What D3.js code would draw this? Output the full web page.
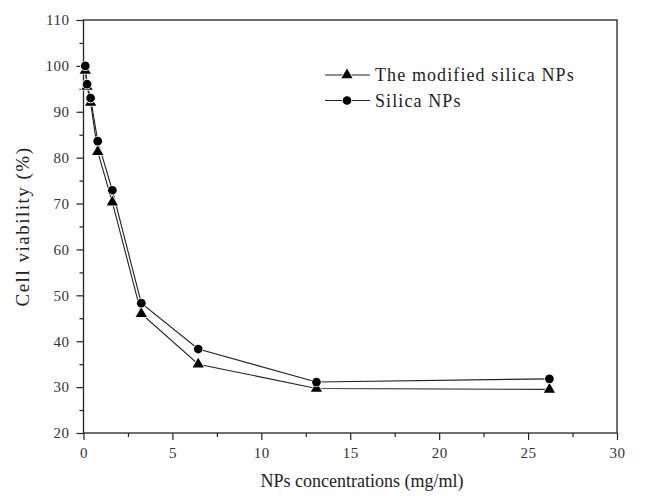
<!DOCTYPE html>
<html>
<head>
<meta charset="utf-8">
<script src="https://cdn.jsdelivr.net/npm/d3@7"></script>
<style>
  body { margin: 0; background: #fff; }
  svg text { font-family: "Liberation Serif", "Times New Roman", serif; }
</style>
</head>
<body>
<div id="chart"></div>
<script>
const width = 650;
const height = 496;

// data
const concentrations = [0.1, 0.2, 0.4, 0.8, 1.62, 3.25, 6.45, 13.1, 26.2];
const modifiedSilica = [99, 95.5, 92, 81.3, 70.3, 46, 35, 29.7, 29.5];
const silica = [100, 96, 93, 83.6, 72.9, 48.3, 38.3, 31.1, 31.8];
const seriesNames = ["The modified silica NPs", "Silica NPs"];
const xTicks = [0, 5, 10, 15, 20, 25, 30];
const yTicks = [20, 30, 40, 50, 60, 70, 80, 90, 100, 110];

const margin = { left: 83.5, right: 33, top: 20, bottom: 63 };

const svg = d3.select("#chart")
    .append("svg")
    .attr("width", width)
    .attr("height", height);

const x = d3.scaleLinear().domain([0, 30]).range([margin.left, width - margin.right]);
const y = d3.scaleLinear().domain([20, 110]).range([height - margin.bottom, margin.top]);

// frame
svg.append("rect")
    .attr("x", x(0)).attr("y", y(110))
    .attr("width", x(30) - x(0)).attr("height", y(20) - y(110))
    .attr("fill", "none").attr("stroke", "#222").attr("stroke-width", 1.3);

// x axis
svg.append("g")
    .attr("transform", `translate(0,${y(20)})`)
    .call(d3.axisBottom(x).tickValues(xTicks).tickSize(7).tickPadding(7).tickFormat(d3.format("d")));
svg.append("g")
    .attr("transform", `translate(0,${y(20)})`)
    .call(d3.axisBottom(x).tickValues(d3.range(2.5, 30, 5)).tickSize(4).tickFormat(""));

// y axis
svg.append("g")
    .attr("transform", `translate(${x(0)},0)`)
    .call(d3.axisLeft(y).tickValues(yTicks).tickSize(7).tickPadding(7).tickFormat(d3.format("d")));
svg.append("g")
    .attr("transform", `translate(${x(0)},0)`)
    .call(d3.axisLeft(y).tickValues(d3.range(25, 110, 10)).tickSize(4).tickFormat(""));

svg.selectAll(".domain").remove();
svg.selectAll(".tick line").attr("stroke", "#222").attr("stroke-width", 1.2);
svg.selectAll(".tick text")
    .attr("fill", "#333")
    .style("font-size", "15px")
    .style("letter-spacing", "0.5px")
    .style("font-family", "'Liberation Serif', serif");

// axis titles
svg.append("text")
    .attr("x", 362)
    .attr("y", 487)
    .attr("text-anchor", "middle")
    .attr("fill", "#222")
    .style("font-size", "18px")
    .text("NPs concentrations (mg/ml)");

svg.append("text")
    .attr("transform", `translate(29,${(y(20) + y(110)) / 2}) rotate(-90)`)
    .attr("text-anchor", "middle")
    .attr("fill", "#222")
    .style("font-size", "19px")
    .style("letter-spacing", "1.5px")
    .text("Cell viability (%)");

const line = d3.line().x(d => x(d[0])).y(d => y(d[1]));

const triangle = d3.symbol().type(d3.symbolTriangle).size(55);
const circle = d3.symbol().type(d3.symbolCircle).size(60);

const series = [
    { name: seriesNames[0], values: modifiedSilica, shape: triangle },
    { name: seriesNames[1], values: silica, shape: circle }
];

series.forEach(s => {
    const pts = concentrations.map((c, i) => [c, s.values[i]]);
    svg.append("path")
        .datum(pts)
        .attr("d", line)
        .attr("fill", "none")
        .attr("stroke", "#222")
        .attr("stroke-width", 1.1);
});

series.forEach(s => {
    const pts = concentrations.map((c, i) => [c, s.values[i]]);
    svg.selectAll(null)
        .data(pts)
        .enter().append("path")
        .attr("transform", d => `translate(${x(d[0])},${y(d[1])})`)
        .attr("d", s.shape)
        .attr("fill", "#000")
        .attr("stroke", "#fff")
        .attr("stroke-width", 1.5)
        .attr("paint-order", "stroke");
});

// legend
const legend = svg.append("g").attr("transform", "translate(325,75)");
series.forEach((s, i) => {
    const g = legend.append("g").attr("transform", `translate(0,${i * 25.5})`);
    g.append("line").attr("x1", 0).attr("x2", 45).attr("y1", 0).attr("y2", 0)
        .attr("stroke", "#222").attr("stroke-width", 1.1);
    g.append("path").attr("transform", "translate(22,0)").attr("d", s.shape)
        .attr("fill", "#000").attr("stroke", "#fff").attr("stroke-width", 1.5)
        .attr("paint-order", "stroke");
    g.append("text").attr("x", 50).attr("y", 6)
        .attr("fill", "#222")
        .style("font-size", "18px")
        .style("letter-spacing", "1.1px")
        .text(s.name);
});
</script>
</body>
</html>
